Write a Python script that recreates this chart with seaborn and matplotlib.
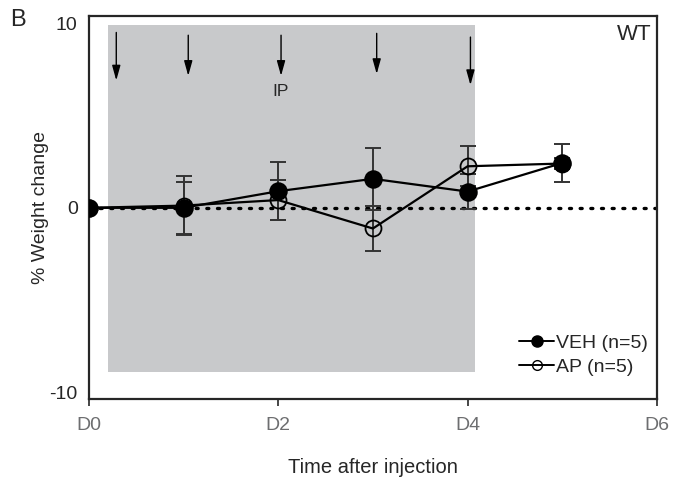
import numpy as np
import pandas as pd
import matplotlib
matplotlib.use("Agg")
import matplotlib.pyplot as plt
from matplotlib.lines import Line2D
import seaborn as sns

# % weight change, mean +/- SE
days = [0, 1, 2, 3, 4, 5]
veh_mean = [0.0, 0.0, 0.9, 1.57, 0.88, 2.43]
veh_err = [0.0, 1.4, 1.57, 1.68, 0.97, 1.04]
ap_mean = [0.0, 0.12, 0.42, -1.12, 2.25, 2.4]
ap_err = [0.0, 1.6, 1.09, 1.23, 1.08, 0.3]

# injection window (shaded) and IP injection arrows
shade_start, shade_end = 0.2, 4.08
shade_low, shade_high = -8.88, 9.91
arrow_days = [0.29, 1.05, 2.03, 3.04, 4.03]
arrow_top = [9.5, 9.35, 9.35, 9.45, 9.25]
arrow_tip = [6.9, 7.15, 7.15, 7.25, 6.65]

xticks = [0, 2, 4, 6]
xticklabels = ["D0", "D2", "D4", "D6"]
yticks = [-10, 0, 10]
yticklabels = ["-10", "0", "10"]

sns.set_style("ticks")
plt.rcParams["font.family"] = ["Liberation Sans", "DejaVu Sans"]

df = pd.DataFrame({
    "day": days * 2,
    "change": veh_mean + ap_mean,
    "err": veh_err + ap_err,
    "group": ["VEH (n=5)"] * len(days) + ["AP (n=5)"] * len(days),
})

fig = plt.figure(figsize=(6.78, 4.8), dpi=100)
ax = fig.add_axes([0.131, 0.169, 0.838, 0.798])
ylim = (-10.35, 10.4)

ax.axvspan(shade_start, shade_end,
           ymin=(shade_low - ylim[0]) / (ylim[1] - ylim[0]),
           ymax=(shade_high - ylim[0]) / (ylim[1] - ylim[0]),
           color="#c8c9cb", lw=0, zorder=0)
ax.axhline(0, color="black", lw=2.4, ls=(0, (0.6, 2.6)),
           dash_capstyle="round", zorder=1)

for grp, face in [("AP (n=5)", "none"), ("VEH (n=5)", "black")]:
    d = df[df.group == grp]
    ax.errorbar(d.day, d.change, yerr=d.err, fmt="none", ecolor="#333333",
                elinewidth=1.4, capsize=6, capthick=1.4, zorder=2)
    sns.lineplot(data=d, x="day", y="change", ax=ax, color="black", lw=1.6,
                 marker="o", markersize=12 if face == "black" else 11.5,
                 markerfacecolor=face, markeredgecolor="black",
                 markeredgewidth=1.3, legend=False, zorder=3)

for xd, yt, yb in zip(arrow_days, arrow_top, arrow_tip):
    ax.annotate("", xy=(xd, yb), xytext=(xd, yt),
                arrowprops=dict(arrowstyle="-|>,head_length=0.9,head_width=0.25",
                                color="black", lw=1.0, shrinkA=0, shrinkB=0))
ax.text(2.03, 6.3, "IP", ha="center", va="center", fontsize=12.5)
ax.text(0.99, 0.952, "WT", transform=ax.transAxes, ha="right", va="center",
        fontsize=16)
fig.text(0.026, 0.958, "B", ha="center", va="center", fontsize=17)

ax.set_xlim(0, 6)
ax.set_ylim(*ylim)
ax.set_xticks(xticks)
ax.set_xticklabels(xticklabels, color="#6d6e70")
ax.set_yticks(yticks)
ax.set_yticklabels(yticklabels)
ax.tick_params(axis="y", length=0, labelsize=14, pad=8)
ax.tick_params(axis="x", length=5, width=1.2, labelsize=14, pad=8)
for s in ax.spines.values():
    s.set_linewidth(1.6)
ax.set_xlabel("Time after injection", fontsize=14.5, labelpad=17)
ax.set_ylabel("% Weight change", fontsize=14, labelpad=0)

handles = [
    Line2D([], [], color="black", lw=1.4, marker="o", markersize=8,
           markerfacecolor="black", markeredgecolor="black"),
    Line2D([], [], color="black", lw=1.4, marker="o", markersize=7,
           markerfacecolor="none", markeredgecolor="black"),
]
ax.legend(handles, ["VEH (n=5)", "AP (n=5)"], loc="lower right",
          bbox_to_anchor=(1.015, 0.015), frameon=False, fontsize=14,
          handlelength=1.8, handletextpad=0.1, labelspacing=0.3)

fig.savefig("out.png", dpi=100)
